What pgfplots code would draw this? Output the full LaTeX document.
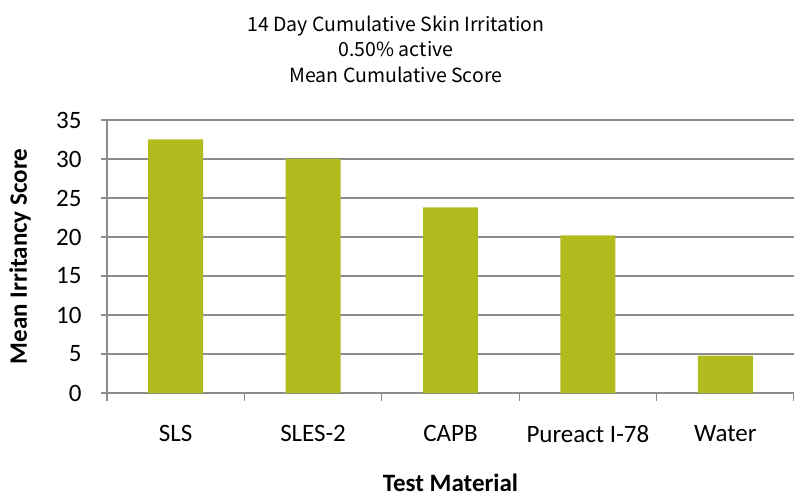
\documentclass[border=0pt]{standalone}
\usepackage{pgfplots}
\pgfplotsset{compat=1.18}
\usepackage{fontspec}
\setmainfont{Carlito}
\newfontfamily\titlefont{Noto Sans CJK KR}
\definecolor{barc}{HTML}{B2BB1E}
\definecolor{gridc}{HTML}{8C8C8C}
\begin{document}
\begin{tikzpicture}
\useasboundingbox (-107pt,-104pt) rectangle (687pt,393pt);
\begin{axis}[
  at={(0,0)}, anchor=south west,
  scale only axis, width=687pt, height=273pt,
  ymin=0, ymax=35, ytick={0,5,...,35},
  xmin=-0.5, xmax=4.5,
  xtick={0,1,2,3,4},
  xticklabels={SLS,SLES-2,CAPB,Pureact I-78,Water},
  minor xtick={-0.5,0.5,1.5,2.5,3.5,4.5},
  major x tick style={draw=none},
  minor tick length=8pt,
  major tick length=6pt,
  tick align=outside,
  tick pos=left,
  axis x line*=bottom, axis y line*=left,
  axis line style={gridc, line width=1.5pt},
  every tick/.style={gridc, line width=1.2pt},
  ymajorgrids, major grid style={gridc, line width=1.5pt},
  tick label style={font=\fontsize{25}{30}\selectfont},
  /pgf/number format/assume math mode=true,
  xticklabel style={yshift=-23pt},
  yticklabel style={xshift=-16pt},
  ylabel={\bfseries Mean Irritancy Score},
  ylabel style={font=\fontsize{25}{30}\selectfont, at={(-87pt,0.5)}, anchor=center},
  xlabel={\bfseries Test Material},
  xlabel style={font=\fontsize{25}{30}\selectfont, at={(0.5,-98pt)}, anchor=base},
  title={14 Day Cumulative Skin Irritation\\0.50\% active\\Mean Cumulative Score},
  title style={font=\titlefont\fontsize{19.5}{25.5}\selectfont, align=center, at={(289pt,273pt)}, anchor=south, yshift=28pt},
  clip=false,
]
\addplot[ybar, bar width=0.4, fill=barc, draw=none] coordinates {(0,32.5) (1,30.0) (2,23.8) (3,20.2) (4,4.8)};
\end{axis}
\end{tikzpicture}
\end{document}
